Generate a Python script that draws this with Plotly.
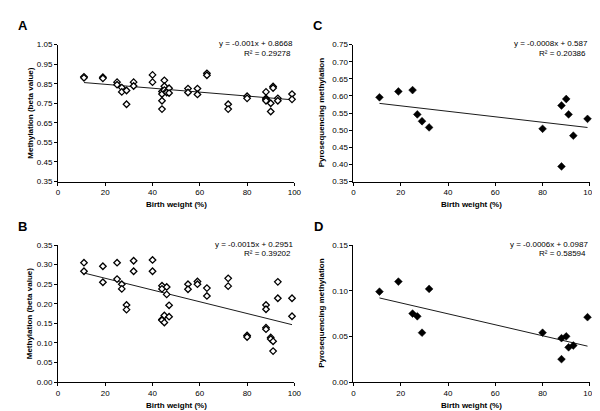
import plotly.graph_objects as go

# ---------------- data ----------------
a_x = [11, 11, 19, 19, 25, 25, 27, 27, 29, 29, 32, 32, 40, 40,
       44, 44, 44, 44, 45, 45, 45, 46, 46, 47, 47, 55, 55, 59, 59,
       63, 63, 72, 72, 80, 80, 88, 88, 88, 88, 90, 90, 91, 91, 93, 93, 99, 99]
a_y = [0.885, 0.880, 0.883, 0.877, 0.858, 0.845, 0.830, 0.808, 0.815, 0.745,
       0.858, 0.838, 0.895, 0.858, 0.810, 0.797, 0.763, 0.720, 0.867, 0.837,
       0.817, 0.812, 0.805, 0.827, 0.802, 0.825, 0.805, 0.825, 0.795, 0.903,
       0.893, 0.745, 0.720, 0.786, 0.775, 0.808, 0.775, 0.769, 0.763, 0.750,
       0.708, 0.836, 0.828, 0.775, 0.763, 0.797, 0.770]

b_x = [11, 11, 19, 19, 25, 25, 27, 27, 29, 29, 32, 32, 40, 40,
       44, 44, 44, 44, 45, 45, 46, 46, 47, 47, 55, 55, 59, 59,
       63, 63, 72, 72, 80, 80, 88, 88, 88, 88, 90, 90, 91, 91, 93, 93, 99, 99]
b_y = [0.305, 0.283, 0.296, 0.255, 0.305, 0.263, 0.250, 0.238, 0.197, 0.185,
       0.310, 0.283, 0.312, 0.283, 0.246, 0.238, 0.160, 0.158, 0.170, 0.152,
       0.243, 0.224, 0.196, 0.167, 0.250, 0.237, 0.257, 0.250, 0.240, 0.220,
       0.265, 0.245, 0.119, 0.115, 0.197, 0.186, 0.139, 0.135, 0.114, 0.110,
       0.104, 0.079, 0.256, 0.214, 0.214, 0.168]

c_x = [11, 19, 25, 27, 29, 32, 80, 88, 88, 90, 91, 93, 99]
c_y = [0.596, 0.613, 0.617, 0.546, 0.526, 0.508, 0.504, 0.572, 0.394,
       0.591, 0.546, 0.484, 0.533]

d_x = [11, 19, 25, 27, 29, 32, 80, 88, 88, 90, 91, 93, 99]
d_y = [0.099, 0.110, 0.075, 0.072, 0.054, 0.102, 0.054, 0.048, 0.025,
       0.050, 0.038, 0.040, 0.071]

# regression coefficients as printed on the chart
slopes = {"A": -0.001, "B": -0.0015, "C": -0.0008, "D": -0.0006}
intercepts = {"A": 0.8668, "B": 0.2951, "C": 0.587, "D": 0.0987}
eq_text = {"A": "y = -0.001x + 0.8668", "B": "y = -0.0015x + 0.2951",
           "C": "y = -0.0008x + 0.587", "D": "y = -0.0006x + 0.0987"}
r2_text = {"A": "R² = 0.29278", "B": "R² = 0.39202",
           "C": "R² = 0.20386", "D": "R² = 0.58594"}
y_ranges = {"A": [0.35, 1.05], "B": [0.0, 0.35], "C": [0.35, 0.75], "D": [0.0, 0.15]}
y_dticks = {"A": 0.1, "B": 0.05, "C": 0.05, "D": 0.05}
y_titles = {"A": "Methylation (beta value)", "B": "Methylation (beta value)",
            "C": "Pyrosequencing methylation", "D": "Pyrosequencing methylation"}
x_title = "Birth weight (%)"

W, H = 600, 411
FONT = "Liberation Sans, Arial, sans-serif"

panels = {
    "A": dict(x=a_x, y=a_y, open=True, ax="", px=(48.7, 288.7), py=(33.3, 173.3), lx=13, ly=14, ytx=20),
    "C": dict(x=c_x, y=c_y, open=False, ax="2", px=(348.7, 588.7), py=(33.3, 173.3), lx=313, ly=14, ytx=316),
    "B": dict(x=b_x, y=b_y, open=True, ax="3", px=(48.7, 288.7), py=(238.3, 378.3), lx=13, ly=219, ytx=20),
    "D": dict(x=d_x, y=d_y, open=False, ax="4", px=(348.7, 588.7), py=(238.3, 378.3), lx=313, ly=219, ytx=316),
}

fig = go.Figure()
layout = dict(width=W, height=H, margin=dict(l=0, r=0, t=0, b=0),
              paper_bgcolor="white", plot_bgcolor="white", showlegend=False,
              font=dict(family=FONT, size=8, color="black"))
annotations = []

def px2x(p):
    return p / W

def py2y(p):
    return 1 - p / H

for key, p in panels.items():
    xa = "x" + p["ax"]
    ya = "y" + p["ax"]
    xmin, xmax = min(p["x"]), max(p["x"])
    m, b = slopes[key], intercepts[key]
    fig.add_trace(go.Scatter(x=[xmin, xmax], y=[m * xmin + b, m * xmax + b],
                             mode="lines", line=dict(color="black", width=0.9),
                             xaxis=xa, yaxis=ya, hoverinfo="skip"))
    if p["open"]:
        marker = dict(symbol="diamond", size=5, color="white",
                      line=dict(color="black", width=1.3))
    else:
        marker = dict(symbol="diamond", size=6, color="black",
                      line=dict(color="black", width=0.5))
    fig.add_trace(go.Scatter(x=p["x"], y=p["y"], mode="markers", marker=marker,
                             cliponaxis=False, xaxis=xa, yaxis=ya))
    axis_common = dict(showline=True, linecolor="black", linewidth=1,
                       ticks="outside", ticklen=3, tickwidth=1, tickcolor="black",
                       showgrid=False, zeroline=False, mirror=False,
                       tickfont=dict(family=FONT, size=8, color="black"))
    layout["xaxis" + p["ax"]] = dict(domain=[px2x(p["px"][0]), px2x(p["px"][1])],
                                     range=[0, 100], dtick=20, tick0=0,
                                     anchor=ya, **axis_common)
    layout["yaxis" + p["ax"]] = dict(domain=[py2y(p["py"][1]), py2y(p["py"][0])],
                                     range=y_ranges[key], dtick=y_dticks[key],
                                     tick0=y_ranges[key][0],
                                     tickformat=".2f", anchor=xa, **axis_common)
    # panel letter
    annotations.append(dict(text="<b>%s</b>" % key, x=px2x(p["lx"]), y=py2y(p["ly"]),
                            xref="paper", yref="paper", showarrow=False,
                            font=dict(family=FONT, size=13, color="black"),
                            xanchor="center", yanchor="middle"))
    # axis titles
    cx = (p["px"][0] + p["px"][1]) / 2
    cy = (p["py"][0] + p["py"][1]) / 2
    annotations.append(dict(text="<b>%s</b>" % x_title, x=px2x(cx), y=py2y(p["py"][1] + 24),
                            xref="paper", yref="paper", showarrow=False,
                            font=dict(family=FONT, size=8, color="black"),
                            xanchor="center", yanchor="middle"))
    annotations.append(dict(text="<b>%s</b>" % y_titles[key], x=px2x(p["ytx"]), y=py2y(cy),
                            xref="paper", yref="paper", showarrow=False, textangle=-90,
                            font=dict(family=FONT, size=8, color="black"),
                            xanchor="center", yanchor="middle"))
    # equation text
    annotations.append(dict(text=eq_text[key], x=px2x(p["px"][1] + 0.5), y=py2y(p["py"][0] - 1),
                            xref="paper", yref="paper", showarrow=False,
                            font=dict(family=FONT, size=8, color="black"),
                            xanchor="right", yanchor="middle"))
    annotations.append(dict(text=r2_text[key], x=px2x(p["px"][1] - 27.5), y=py2y(p["py"][0] + 9),
                            xref="paper", yref="paper", showarrow=False,
                            font=dict(family=FONT, size=8, color="black"),
                            xanchor="center", yanchor="middle"))

layout["annotations"] = annotations
fig.update_layout(**layout)
fig.write_html("out.html")
